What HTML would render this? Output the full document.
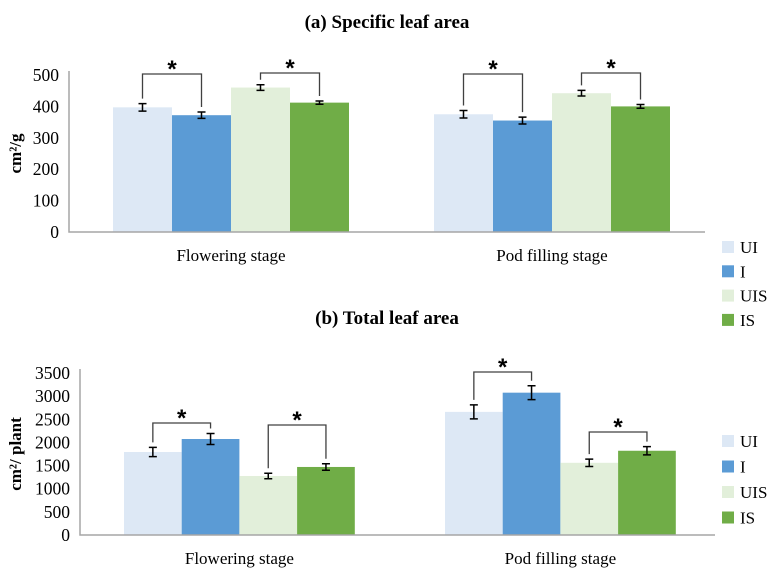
<!DOCTYPE html>
<html><head><meta charset="utf-8"><style>
body{margin:0;background:#fff;}
svg{display:block;font-family:"Liberation Serif",serif;}
</style></head><body>
<svg id="s" width="774" height="569"></svg>
<script>
const categories=["Flowering stage","Pod filling stage"];
const seriesNames=["UI","I","UIS","IS"];
const colors=["#dde8f5","#5b9bd5","#e2efda","#70ad47"];
const slaUI=[397,375],slaI=[372,355],slaUIS=[460,442],slaIS=[412,400];
const slaErr=[[12,12],[10,11],[9,9],[5,6]];
const slaTicks=[0,100,200,300,400,500];
const tlaUI=[1793,2660],tlaI=[2074,3075],tlaUIS=[1275,1560],tlaIS=[1470,1820];
const tlaErr=[[100,150],[120,150],[60,80],[70,90]];
const tlaTicks=[0,500,1000,1500,2000,2500,3000,3500];
const NS="http://www.w3.org/2000/svg";
const svg=document.getElementById('s');
function mk(t,a,p,txt){const e=document.createElementNS(NS,t);for(const k in a)e.setAttribute(k,a[k]);if(txt!=null)e.textContent=txt;(p||svg).appendChild(e);return e;}
function chart(o){
 const g=mk('g',{});
 
 
 const y=v=>o.y0-(v/o.max)*(o.y0-o.yTop);
 const t=mk('text',{x:387,y:o.titleY,'text-anchor':'middle','font-size':19,'font-weight':'bold'},g,o.title);
 
 o.ticks.forEach(v=>{const l=mk('text',{x:o.ax-10,y:y(v)+6,'text-anchor':'end','font-size':17.5},g,String(v));
  });
 const yt=mk('text',{x:0,y:0,transform:`translate(${o.ytX},${(o.y0+o.yTop)/2}) rotate(-90)`,'text-anchor':'middle','font-size':17,'font-weight':'bold'},g,o.ytitle);
 
 const series=o.series;
 categories.forEach((c,ci)=>{
  const gx=o.gx[ci];
  const tops=[];
  series.forEach((s,si)=>{
   const x=gx+si*o.bw,v=s[ci],e=o.err[si][ci];
   const b=mk('rect',{x:x,y:y(v),width:o.bw,height:o.y0-y(v),fill:colors[si]},g);
   
   const cx=x+o.bw/2;
   const eb=mk('path',{d:`M${cx},${y(v+e)}V${y(v-e)}M${cx-4},${y(v+e)}H${cx+4}M${cx-4},${y(v-e)}H${cx+4}`,stroke:'#000','stroke-width':1.5,fill:'none'},g);
   
   tops.push([cx,y(v+e)]);
  });
  [[0,1],[2,3]].forEach(([a,b],k)=>{
   const by=o.by[ci][k];
   const br=mk('path',{d:`M${tops[a][0]},${tops[a][1]-5}V${by}H${tops[b][0]}V${tops[b][1]-5}`,stroke:'#404040','stroke-width':1.3,fill:'none'},g);
   
   const st=mk('text',{x:(tops[a][0]+tops[b][0])/2,y:by+3,'text-anchor':'middle','font-size':24,'font-weight':'bold','font-family':'Liberation Sans'},g,'*');
   
  });
  const xl=mk('text',{x:gx+2*o.bw,y:o.y0+29,'text-anchor':'middle','font-size':17},g,c);
  
 });
 const ax=mk('path',{d:`M${o.ax},${o.yTop-4}V${o.y0}H${o.axR}`,stroke:'#a6a6a6','stroke-width':1.5,fill:'none'},g);
 
 seriesNames.forEach((n,i)=>{
  const ly=o.legY+i*o.legDy;
  const r=mk('rect',{x:722,y:ly-6,width:12,height:12,fill:colors[i]},g);
  
  const lt=mk('text',{x:740,y:ly+6,'font-size':17},g,n);
  
 });
}
chart({name:'chart-specific-leaf-area',title:'(a) Specific leaf area',titleY:28,ytitle:'cm²/g',ytX:21,
 series:[slaUI,slaI,slaUIS,slaIS],err:slaErr,ticks:slaTicks,max:500,y0:232,yTop:75,ax:69,axR:705,
 gx:[113,434],bw:59,by:[[74,73],[74,73]],legY:247,legDy:24.3});
chart({name:'chart-total-leaf-area',title:'(b) Total leaf area',titleY:324,ytitle:'cm²/ plant',ytX:21,
 series:[tlaUI,tlaI,tlaUIS,tlaIS],err:tlaErr,ticks:tlaTicks,max:3500,y0:535,yTop:373,ax:80,axR:715,
 gx:[124,445],bw:57.7,by:[[423,425],[372,432]],legY:441,legDy:25.5});
</script>
</body></html>
